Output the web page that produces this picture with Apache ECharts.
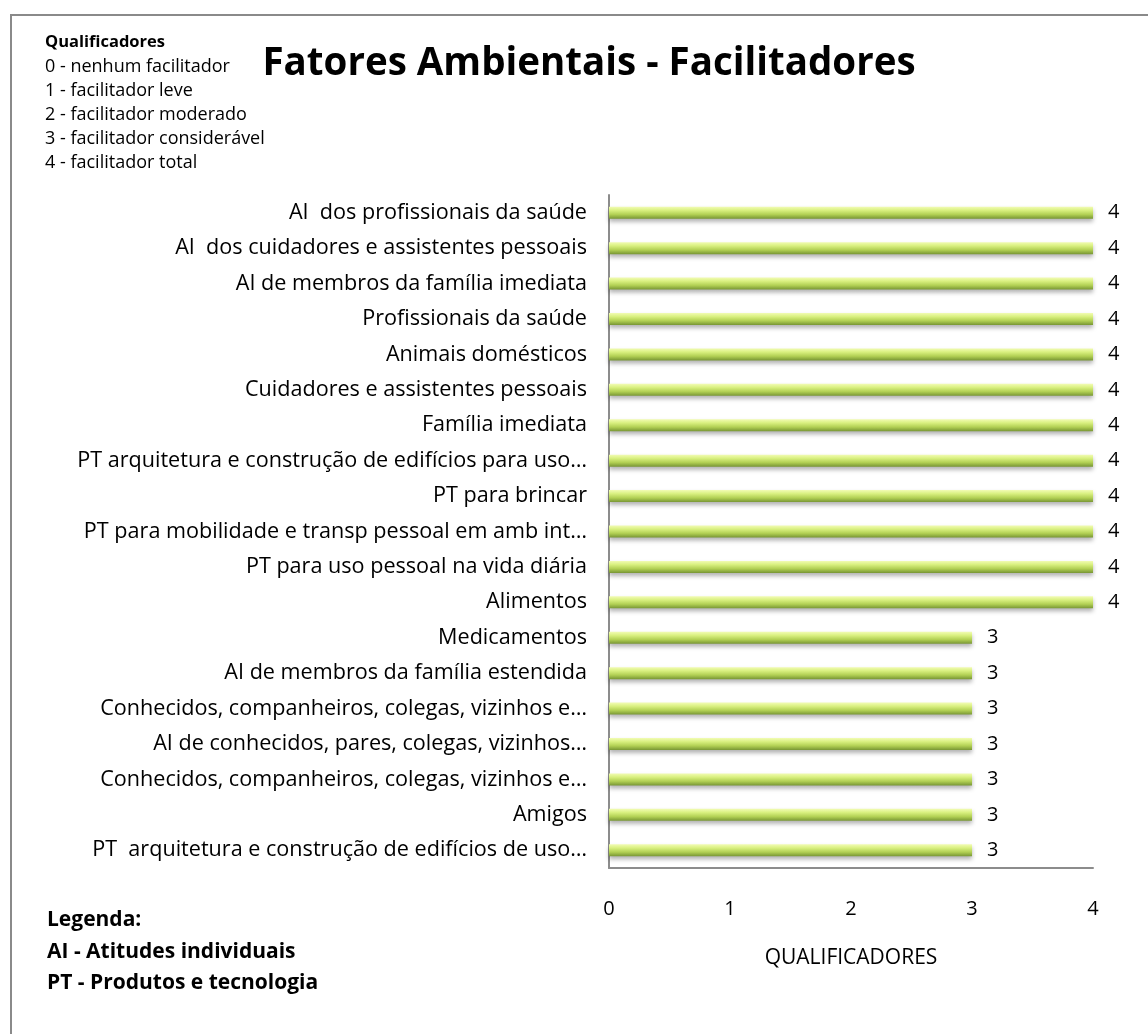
<!DOCTYPE html>
<html>
<head>
<meta charset="utf-8">
<script src="https://cdn.jsdelivr.net/npm/echarts@6/dist/echarts.min.js"></script>
<style>
  html, body { margin: 0; padding: 0; background: #fff; }
  #main { width: 1148px; height: 1034px; }
</style>
</head>
<body>
<div id="main"></div>
<script>
// categorias (de cima para baixo)
const categories = [
  "AI  dos profissionais da saúde",
  "AI  dos cuidadores e assistentes pessoais",
  "AI de membros da família imediata",
  "Profissionais da saúde",
  "Animais domésticos",
  "Cuidadores e assistentes pessoais",
  "Família imediata",
  "PT arquitetura e construção de edifícios para uso…",
  "PT para brincar",
  "PT para mobilidade e transp pessoal em amb int…",
  "PT para uso pessoal na vida diária",
  "Alimentos",
  "Medicamentos",
  "AI de membros da família estendida",
  "Conhecidos, companheiros, colegas, vizinhos e…",
  "AI de conhecidos, pares, colegas, vizinhos…",
  "Conhecidos, companheiros, colegas, vizinhos e…",
  "Amigos",
  "PT  arquitetura e construção de edifícios de uso…"
];
const values = [4, 4, 4, 4, 4, 4, 4, 4, 4, 4, 4, 4, 3, 3, 3, 3, 3, 3, 3];

const qualificadores = [
  "0 - nenhum facilitador",
  "1 - facilitador leve",
  "2 - facilitador moderado",
  "3 - facilitador considerável",
  "4 - facilitador total"
];
const legenda = ["Legenda:", "AI - Atitudes individuais", "PT - Produtos e tecnologia"];

const font = "Open Sans";

const chartDom = document.getElementById("main");
const myChart = echarts.init(chartDom);

// moldura e textos livres
const graphics = [
  {
    type: "rect",
    shape: { x: 11, y: 15, width: 1200, height: 1100 },
    style: { fill: "none", stroke: "#8a8a8a", lineWidth: 2 },
    silent: true
  },
  {
    type: "text",
    left: 45, top: 34,
    style: { text: "Qualificadores", font: "bold 16.5px " + font, fill: "#000" }
  }
];
qualificadores.forEach((t, i) => {
  graphics.push({
    type: "text",
    left: 45, top: 58 + i * 24,
    style: { text: t, font: "18px " + font, fill: "#000" }
  });
});
legenda.forEach((t, i) => {
  graphics.push({
    type: "text",
    left: 47, top: 910 + i * 31.5,
    style: { text: t, font: "bold 21px " + font, fill: "#000" }
  });
});

const option = {
  backgroundColor: "#fff",
  title: {
    text: "Fatores Ambientais - Facilitadores",
    left: 584,
    textAlign: "center",
    top: 40,
    textStyle: { fontFamily: font, fontWeight: "bold", fontSize: 38.5, color: "#000" }
  },
  graphic: graphics,
  grid: {
    left: 609,
    top: 195,
    width: 484,
    height: 673
  },
  xAxis: {
    type: "value",
    min: 0,
    max: 4,
    interval: 1,
    name: "QUALIFICADORES",
    nameLocation: "middle",
    nameGap: 80,
    nameTextStyle: { fontFamily: font, fontSize: 21, color: "#000" },
    axisLine: { show: true, lineStyle: { color: "#8c8c8c", width: 2 } },
    axisTick: { show: false },
    splitLine: { show: false },
    axisLabel: { margin: 31, fontFamily: font, fontSize: 20, color: "#000" }
  },
  yAxis: {
    type: "category",
    inverse: true,
    data: categories,
    axisLine: { show: true, lineStyle: { color: "#8c8c8c", width: 2 } },
    axisTick: { show: false },
    axisLabel: { margin: 22, fontFamily: font, fontSize: 21.6, color: "#000" }
  },
  series: [
    {
      type: "bar",
      data: values,
      barWidth: 12,
      itemStyle: {
        color: new echarts.graphic.LinearGradient(0, 0, 0, 1, [
          { offset: 0, color: "#f2fcb4" },
          { offset: 0.3, color: "#d9f080" },
          { offset: 0.65, color: "#b2d054" },
          { offset: 1, color: "#789634" }
        ]),
        shadowColor: "rgba(0,0,0,0.3)",
        shadowBlur: 4,
        shadowOffsetY: 3
      },
      label: {
        show: true,
        position: "right",
        distance: 15,
        fontFamily: font,
        fontSize: 20,
        color: "#000"
      }
    }
  ]
};

myChart.setOption(option);
</script>
</body>
</html>
